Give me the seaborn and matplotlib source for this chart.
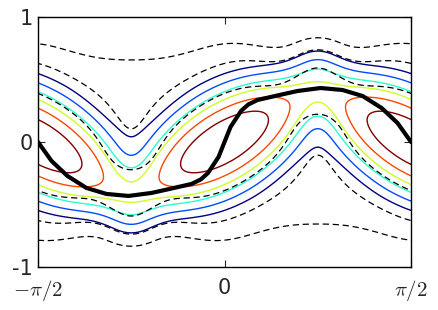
import numpy as np
import matplotlib
matplotlib.use("Agg")
import matplotlib.pyplot as plt
import seaborn as sns

# classical orbit (thick black curve)
orbit_x = [-1.571, -1.457, -1.323, -1.163, -0.994, -0.809, -0.615, -0.463, -0.278,
           -0.2, -0.139, -0.0505, 0.0, 0.0505, 0.139, 0.2, 0.278, 0.463, 0.615,
           0.809, 0.994, 1.163, 1.323, 1.457, 1.571]
orbit_y = [0.0, -0.152, -0.272, -0.368, -0.416, -0.432, -0.408, -0.376, -0.336,
           -0.3, -0.248, -0.12, 0.0, 0.12, 0.248, 0.3, 0.336, 0.376, 0.408,
           0.432, 0.416, 0.368, 0.272, 0.152, 0.0]

# zig-zag ridge of the phase-space density: arm centres and slope signs
arm_x = [-np.pi, -np.pi / 2, 0.0, np.pi / 2, np.pi]
arm_sign = [1, -1, 1, -1, 1]
ridge_amp = 0.45

# coloured density levels (low -> high) and dashed energy levels
dens_levels = [0.047, 0.105, 0.198, 0.315, 0.478, 0.712]
dens_colors = ["#000080", "#004cff", "#29ffce", "#ceff29", "#ff4800", "#800000"]
energy_levels = [0.056, 0.171, 0.512]

x_ticks = [-np.pi / 2, 0, np.pi / 2]
x_labels = [r"$-\pi/2$", "0", r"$\pi/2$"]
y_ticks = [-1, 0, 1]
y_labels = ["-1", "0", "1"]


def arm_field(X, Y, a_v, n, s_c, s_v, lam):
    th = np.arctan(ridge_amp / (np.pi / 4))
    h = np.hypot(np.pi / 4, ridge_amp)
    tot = np.zeros_like(X)
    for xc, sg in zip(arm_x, arm_sign):
        u = (X - xc) * np.cos(th) + Y * sg * np.sin(th)
        v = -(X - xc) * sg * np.sin(th) + Y * np.cos(th)
        t = np.clip(u, -h, h)
        d2 = (u - t) ** 2 + v ** 2
        amp = a_v + (1 - a_v) * np.cos(np.pi * t / (2 * h)) ** n
        sig = s_v + (s_c - s_v) * (1 - np.exp(-((h - np.abs(t)) / lam) ** 2))
        tot += amp * np.exp(-d2 / (2 * sig ** 2))
    return tot


def step(Y, height, y0, w):
    return height / (1 + np.exp((np.abs(Y) - y0) / w))


def softmax(a, b, p=4):
    return (a ** p + b ** p) ** (1.0 / p)


def blur(Z, cells):
    k = np.exp(-0.5 * (np.arange(-4 * cells, 4 * cells + 1) / cells) ** 2)
    k /= k.sum()
    Z = np.apply_along_axis(lambda r: np.convolve(r, k, mode="same"), 1, Z)
    return np.apply_along_axis(lambda c: np.convolve(c, k, mode="same"), 0, Z)


# grid a bit larger than the axes so the smoothing has no edge effects
xs = np.linspace(-2.0, 2.0, 800)
ys = np.linspace(-1.4, 1.4, 560)
X, Y = np.meshgrid(xs, ys)
F = arm_field(X, Y, 0.171, 1.3, 0.2, 0.135, 0.45)
F = blur(softmax(F, step(Y, 0.045, 0.2, 0.08), p=2), 10)
G = arm_field(X, Y, 0.398, 1.35, 0.3, 0.16, 0.35)
G = blur(softmax(G, step(Y, 0.1, 0.68, 0.1), p=2), 10)

sns.set_style("ticks")
plt.rcParams["mathtext.fontset"] = "cm"
plt.rcParams["xtick.direction"] = "in"
plt.rcParams["ytick.direction"] = "in"

fig = plt.figure(figsize=(4.38, 3.10), dpi=100)
ax = fig.add_axes([0.0868, 0.139, 0.8516, 0.806])

ax.contour(X, Y, F, levels=dens_levels, colors=dens_colors, linewidths=1.0)
ax.contour(X, Y, G, levels=energy_levels, colors="k", linewidths=0.9,
           linestyles=[(0, (5, 3))])
sns.lineplot(x=orbit_x, y=orbit_y, color="k", lw=3, ax=ax, sort=False)

ax.set_xlim(-np.pi / 2, np.pi / 2)
ax.set_ylim(-1, 1)
ax.set_xticks(x_ticks)
ax.set_xticklabels(x_labels)
ax.set_yticks(y_ticks)
ax.set_yticklabels(y_labels)
ax.tick_params(labelsize=15, length=5, top=True, right=True)
ax.tick_params(axis="x", pad=8)
for s in ax.spines.values():
    s.set_linewidth(1.0)
    s.set_color("k")

fig.savefig("out.png", dpi=100)
